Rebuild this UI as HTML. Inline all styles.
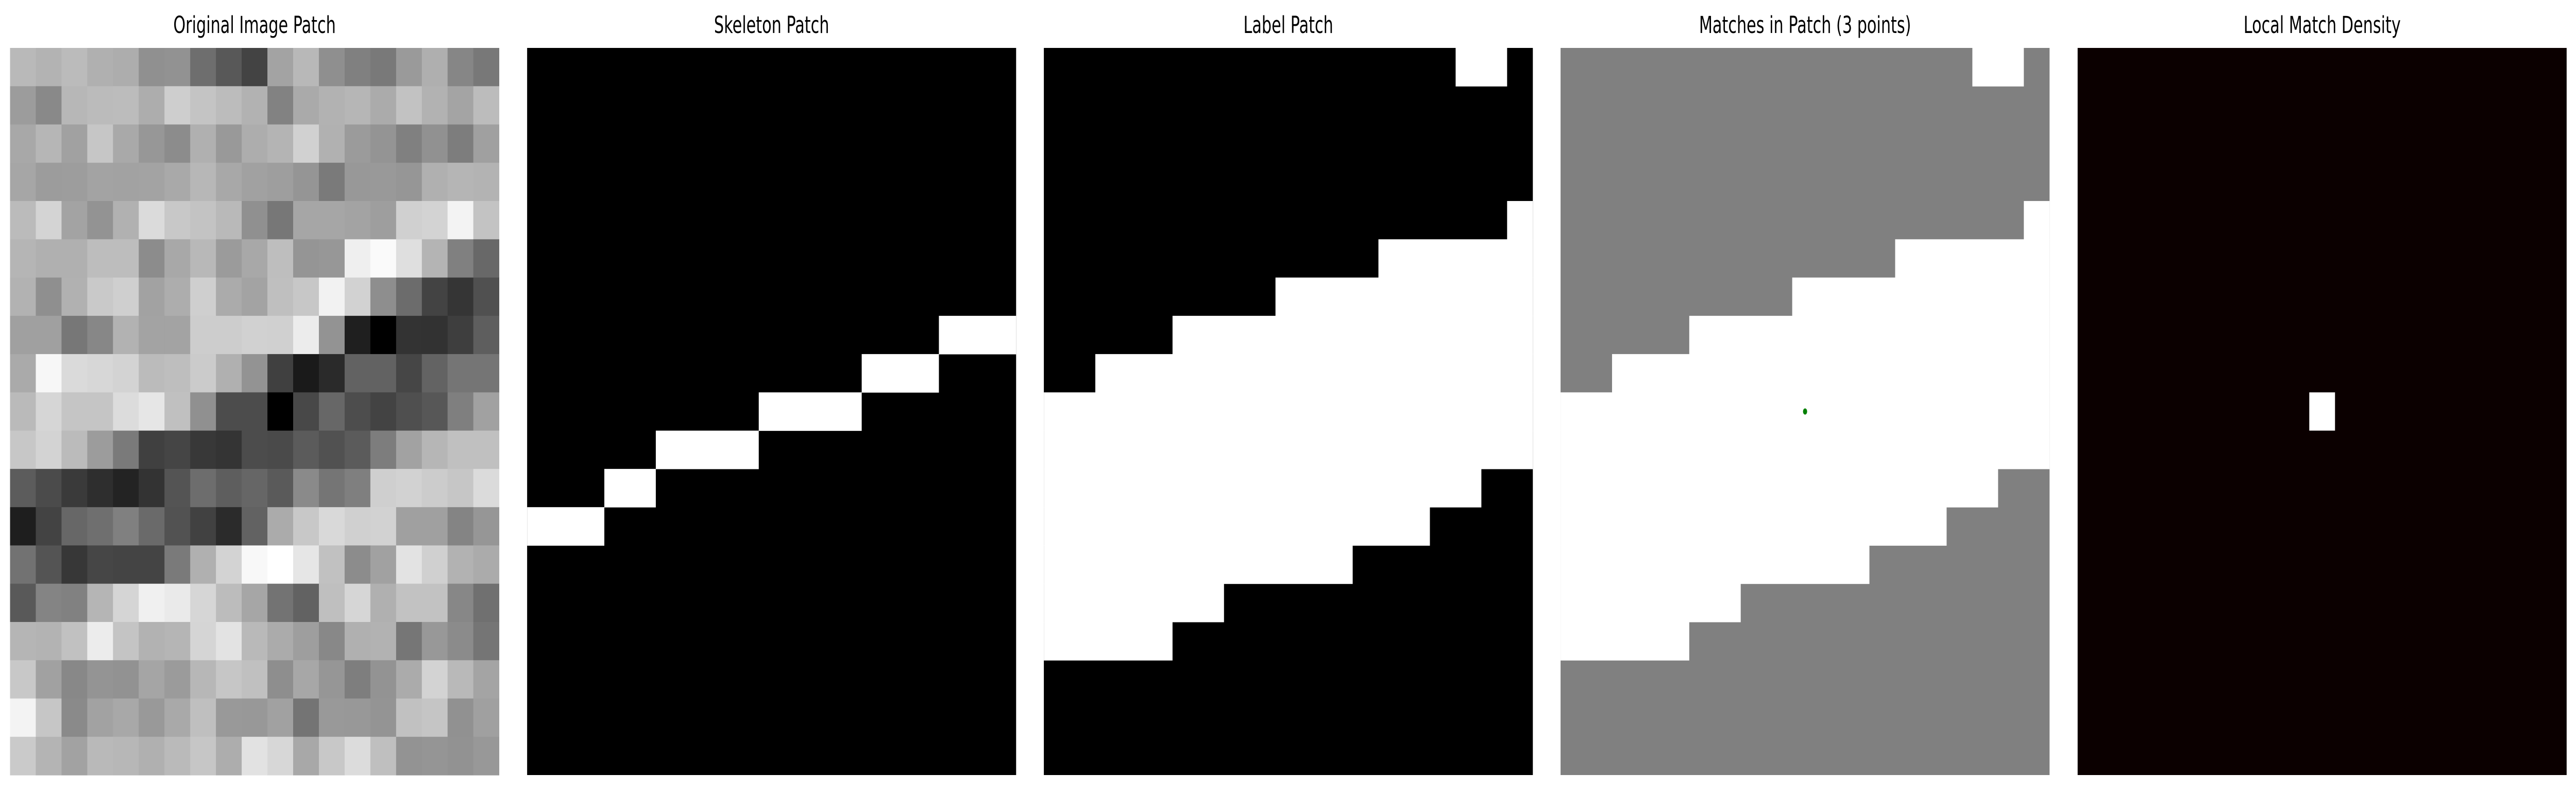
<!DOCTYPE html>
<html><head><meta charset="utf-8"><style>
html,body{margin:0;padding:0;background:#fff;width:100%;height:100%;overflow:hidden}
#fig{display:block;width:100vw;height:100vh}
svg text{font-family:"DejaVu Sans","Liberation Sans",sans-serif;font-size:45px;fill:#000}
</style></head><body>
<svg id="fig" viewBox="0 0 7433 1533" preserveAspectRatio="none" xmlns="http://www.w3.org/2000/svg"></svg>
<script>
const N = 19;
const panelLefts = [29, 1521, 3012, 4503, 5995];
const titles = ["Original Image Patch","Skeleton Patch","Label Patch","Matches in Patch (3 points)","Local Match Density"];
const origRows = [
"b9 b3 bb b0 ad 90 92 6e 58 43 a3 b8 8f 80 79 9a af 86 78",
"9c 89 b7 bb bc ad ce c4 bc b2 82 aa b2 b6 ab c2 b2 a4 bc",
"a8 b6 a1 c6 a9 97 8c b0 99 ad b4 d1 b1 9b 94 80 91 7d a0",
"a6 9c 9d a3 a2 a3 a9 b7 a8 a1 9e 95 7a 98 99 96 b0 b5 b3",
"bb d4 a3 93 b1 db c8 c3 b9 90 77 a6 a6 a3 9e d0 d3 f3 c3",
"b5 b0 b0 bd bd 8c a8 b8 9b a8 be 95 97 ef fa df b4 80 68",
"b2 8f b1 c9 cf a2 ad cf ab a3 bf c7 f2 d2 8e 6c 43 35 50",
"a0 a0 77 87 b2 a3 a3 cd cd d1 d0 ec 93 1f 00 33 32 3e 5e",
"aa f7 da d7 d3 bb be cb b0 93 40 1a 2a 62 62 46 63 75 75",
"ba d6 c5 c5 dc e6 c0 90 4c 4c 00 48 67 4d 43 4f 57 7f a1",
"c7 d3 bb 9c 7a 40 45 38 34 4c 4a 5b 51 5b 7d a2 b6 c0 c0",
"5c 4b 3a 2e 23 33 54 6d 5e 66 5a 8a 75 7f cf d2 cc c6 db",
"1e 43 67 6f 80 6a 52 41 2b 62 ab c8 d9 d0 d2 a0 a0 84 96",
"72 54 37 46 44 44 7a b0 d3 f8 ff e6 c1 8c a1 e3 d0 b2 ab",
"59 84 81 b5 d5 f0 ea d6 bc a6 73 62 bf d6 b0 c2 c2 87 70",
"b5 b3 c1 ec c4 b2 b5 d5 e3 b9 ab 9e 88 b0 b2 76 98 8b 75",
"c8 a1 88 94 92 a5 9b b7 c6 c0 8e a7 96 7e 93 ab d3 b9 a4",
"f3 c6 8a a2 a8 99 a9 bf 99 98 a1 74 99 98 94 c1 c5 91 a0",
"ca b4 a2 b9 b7 b0 ba c6 ad e2 d7 a8 c8 dc bf 93 95 92 98"];
const skeletonRuns = [[7,16,18],[8,13,15],[9,9,12],[10,5,8],[11,3,4],[12,0,2]];
const labelRuns = [[0,16,17],[4,18,18],[5,13,18],[6,9,18],[7,5,18],[8,2,18],[9,0,18],[10,0,18],[11,0,16],[12,0,14],[13,0,11],[14,0,6],[15,0,4]];
const matchPoints = [[9,9]];
const densityHot = [[9,9]];

const svg = document.getElementById('fig');
const NS = "http://www.w3.org/2000/svg";
const top0 = 93, size = 1411, cell = size / N;
function mk(tag, attrs){const e=document.createElementNS(NS,tag);for(const k in attrs)e.setAttribute(k,attrs[k]);svg.appendChild(e);return e;}
function cx(p,c){return panelLefts[p] + c*cell;}
function cy(r){return top0 + r*cell;}

titles.forEach((t,i)=>{
  const el = mk('text',{x:panelLefts[i]+size/2,y:64,'text-anchor':'middle'});
  el.textContent = t;
  
  
});

origRows.forEach((row,r)=>{
  row.split(' ').forEach((h,c)=>{
    const el = mk('rect',{x:cx(0,c),y:cy(r),width:cell+0.6,height:cell+0.6,fill:'#'+h+h+h});
    
    
  });
});

function binaryPanel(p, bg, runs, name){
  const b = mk('rect',{x:panelLefts[p],y:top0,width:size,height:size,fill:bg});
  
  
  runs.forEach(([r,a,z])=>{
    const el = mk('rect',{x:cx(p,a),y:cy(r),width:(z-a+1)*cell,height:cell+0.5,fill:'#fff'});
    
    
  });
}
binaryPanel(1,'#000',skeletonRuns,'skeleton');
binaryPanel(2,'#000',labelRuns,'label');
binaryPanel(3,'#808080',labelRuns,'matches');
matchPoints.forEach(([r,c])=>{
  const el = mk('circle',{cx:cx(3,c+0.5),cy:cy(r+0.5),r:6,fill:'#008000'});
  
  
});
const d = mk('rect',{x:panelLefts[4],y:top0,width:size,height:size,fill:'#0b0000'});


densityHot.forEach(([r,c])=>{
  const el = mk('rect',{x:cx(4,c),y:cy(r),width:cell,height:cell,fill:'#fff'});
  
  
});
</script>
</body></html>
